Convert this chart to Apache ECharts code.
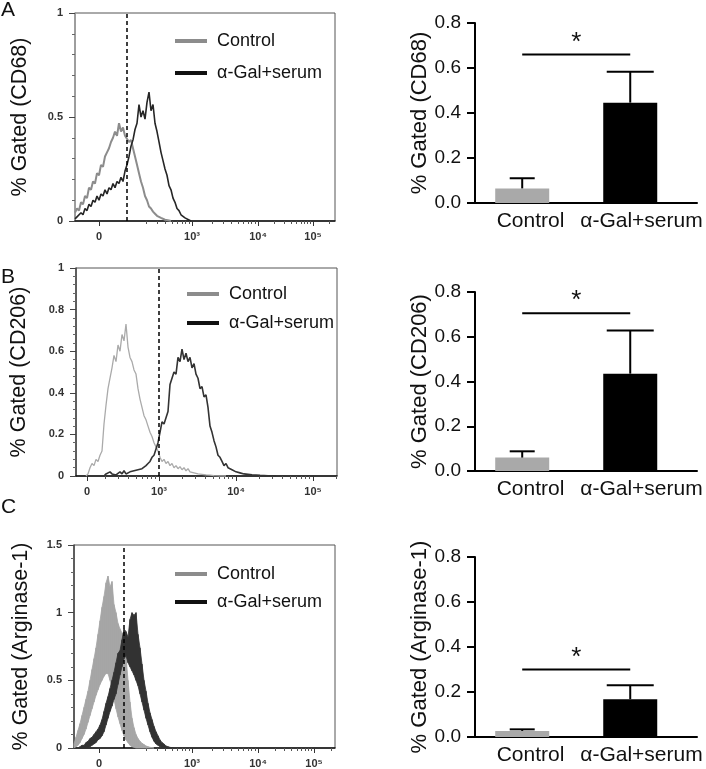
<!DOCTYPE html>
<html>
<head>
<meta charset="utf-8">
<script src="https://cdn.jsdelivr.net/npm/echarts@6/dist/echarts.min.js"></script>
<style>
html, body { margin: 0; padding: 0; background: #fff; }
#chart { width: 706px; height: 769px; }
</style>
</head>
<body>
<div id="chart"></div>
<script>
const FONT = '"Liberation Sans", Arial, "DejaVu Sans", sans-serif';

// groups and markers
const groups = ['Control', 'α-Gal+serum'];
const markers = ['CD68', 'CD206', 'Arginase-1'];
const panelLetters = ['A', 'B', 'C'];

// histogram display axis (biexponential channel, 0..max), bins every 2 channels
const BIN = 2;
const decadeLabels = ['0', '10³', '10⁴', '10⁵'];
const decadePosA = [24, 117, 183, 238];
const decadePosB = [11, 83, 160, 237];
const decadePosC = [25, 118, 184, 240];
const gatePos = [52, 83, 50];

// A: CD68 histograms
const ctrlA_start = 0;
const ctrlA = [0.04, 0.06, 0.05, 0.09, 0.08, 0.12, 0.11, 0.16, 0.15, 0.19, 0.18, 0.23, 0.22, 0.27, 0.26, 0.31, 0.33, 0.35, 0.38, 0.40,
  0.43, 0.41, 0.47, 0.43, 0.45, 0.41, 0.41, 0.38, 0.39, 0.35, 0.31, 0.27, 0.23, 0.19, 0.16, 0.12, 0.10, 0.07, 0.06, 0.045,
  0.035, 0.025, 0.02, 0.015, 0.01, 0.006, 0.004, 0.002, 0];
const agalA_start = 0;
const agalA = [0.01, 0.02, 0.015, 0.04, 0.03, 0.06, 0.05, 0.08, 0.07, 0.10, 0.09, 0.12, 0.10, 0.13, 0.12, 0.15, 0.13, 0.16, 0.15, 0.18,
  0.16, 0.19, 0.18, 0.21, 0.19, 0.24, 0.27, 0.31, 0.36, 0.39, 0.44, 0.47, 0.56, 0.50, 0.53, 0.49, 0.57, 0.62, 0.53, 0.56,
  0.47, 0.43, 0.38, 0.33, 0.29, 0.25, 0.22, 0.17, 0.15, 0.11, 0.09, 0.06, 0.05, 0.03, 0.035, 0.015, 0.02, 0.005, 0];

// B: CD206 histograms
const ctrlB_start = 10;
const ctrlB = [0, 0.01, 0.04, 0.06, 0.05, 0.08, 0.07, 0.10, 0.12, 0.25, 0.34, 0.42, 0.47, 0.52, 0.58, 0.55, 0.63, 0.60, 0.68, 0.65,
  0.73, 0.62, 0.57, 0.55, 0.51, 0.49, 0.42, 0.37, 0.33, 0.29, 0.27, 0.24, 0.21, 0.19, 0.16, 0.14, 0.12, 0.09, 0.07, 0.08,
  0.06, 0.07, 0.05, 0.06, 0.04, 0.05, 0.035, 0.045, 0.03, 0.04, 0.025, 0.035, 0.02, 0.025, 0.015, 0.02, 0.01, 0.015, 0.008, 0.012,
  0.005, 0.01, 0.004, 0.006, 0.002, 0.004, 0.001, 0.003, 0, 0.002, 0];
const agalB_start = 28;
const agalB = [0, 0.01, 0.005, 0.02, 0.01, 0.015, 0.005, 0.01, 0.02, 0.01, 0.025, 0.01, 0.015, 0.02, 0.015, 0.025, 0.02, 0.03, 0.025, 0.035,
  0.04, 0.05, 0.06, 0.07, 0.09, 0.10, 0.13, 0.16, 0.21, 0.26, 0.25, 0.28, 0.31, 0.44, 0.47, 0.50, 0.49, 0.57, 0.55, 0.61,
  0.56, 0.59, 0.55, 0.57, 0.52, 0.54, 0.49, 0.47, 0.42, 0.43, 0.38, 0.39, 0.33, 0.24, 0.21, 0.17, 0.14, 0.10, 0.09, 0.07,
  0.05, 0.06, 0.04, 0.045, 0.03, 0.025, 0.02, 0.025, 0.015, 0.02, 0.01, 0.015, 0.008, 0.012, 0.006, 0.008, 0.005, 0.006, 0.003, 0.005,
  0.002, 0.004, 0.001, 0.003, 0, 0.002, 0];

// C: Arginase-1 histograms (noisy, drawn as low/high envelopes)
const ctrlC_start = 0;
const ctrlCHi = [0.03, 0.08, 0.13, 0.18, 0.24, 0.30, 0.36, 0.42, 0.50, 0.58, 0.66, 0.74, 0.84, 0.94, 1.04, 1.12, 1.22, 1.27, 1.19, 1.23,
  1.06, 1.00, 0.92, 0.88, 0.85, 0.82, 0.68, 0.50, 0.34, 0.22, 0.15, 0.10, 0.07, 0.05, 0.035, 0.025, 0.015, 0.01, 0.005, 0.003, 0];
const ctrlCLo = [0, 0.01, 0.02, 0.04, 0.07, 0.10, 0.14, 0.19, 0.24, 0.29, 0.34, 0.39, 0.43, 0.47, 0.50, 0.53, 0.55, 0.55, 0.50, 0.44,
  0.36, 0.29, 0.23, 0.18, 0.13, 0.09, 0.06, 0.04, 0.02, 0.01, 0.005, 0, 0, 0, 0, 0, 0, 0, 0, 0, 0];
const agalC_start = 4;
const agalCHi = [0, 0.01, 0.02, 0.02, 0.04, 0.05, 0.07, 0.08, 0.10, 0.12, 0.14, 0.17, 0.21, 0.27, 0.33, 0.38, 0.44, 0.50, 0.56, 0.63,
  0.70, 0.72, 0.80, 0.88, 0.86, 0.82, 0.95, 1.00, 0.98, 1.00, 0.84, 0.74, 0.62, 0.50, 0.42, 0.33, 0.26, 0.21, 0.16, 0.12,
  0.09, 0.06, 0.04, 0.03, 0.015, 0.01, 0.005, 0.002, 0];
const agalCLo = [0, 0, 0, 0, 0, 0.005, 0.01, 0.02, 0.03, 0.04, 0.06, 0.07, 0.09, 0.12, 0.17, 0.22, 0.27, 0.31, 0.36, 0.40,
  0.47, 0.54, 0.60, 0.66, 0.68, 0.63, 0.60, 0.57, 0.54, 0.50, 0.46, 0.40, 0.34, 0.28, 0.22, 0.17, 0.12, 0.08, 0.05, 0.03,
  0.02, 0.01, 0.005, 0, 0, 0, 0, 0, 0];

// bar charts: mean and SD (upper error) per group
const cd68Mean = [0.065, 0.446];
const cd68Err = [0.045, 0.137];
const cd206Mean = [0.06, 0.435];
const cd206Err = [0.028, 0.193];
const arg1Mean = [0.027, 0.168];
const arg1Err = [0.007, 0.062];
const sigLevel = [0.66, 0.705, 0.30];
const barTicks = [0, 0.2, 0.4, 0.6, 0.8];

const GRAY = '#a9a9a9';
const BLACK = '#000';

function toPts(start, vals) {
  return vals.map((v, i) => [start + i * BIN, v]);
}

// one row per bin edge pair: [x, lo, hi, xNext, loNext, hiNext]
function bandRows(start, lo, hi) {
  const rows = [];
  for (let i = 0; i < lo.length - 1; i++) {
    rows.push([start + i * BIN, lo[i], hi[i], start + (i + 1) * BIN, lo[i + 1], hi[i + 1]]);
  }
  return rows;
}

function bandRenderer(color) {
  return (params, api) => {
    const a = api.coord([api.value(0), api.value(1)]);
    const b = api.coord([api.value(3), api.value(4)]);
    const c = api.coord([api.value(3), api.value(5)]);
    const d = api.coord([api.value(0), api.value(2)]);
    return {
      type: 'polygon',
      shape: { points: [a, b, c, d] },
      style: { fill: color, stroke: color, lineWidth: 0.8 }
    };
  };
}

function minorTicks(dec, max) {
  const w3 = dec[2] - dec[1];
  const w4 = dec[3] - dec[2];
  const starts = [[dec[1] - w3, w3], [dec[1], w3], [dec[2], w4], [dec[3], w4]];
  const out = [];
  starts.forEach(([s, w]) => {
    for (let k = 2; k <= 9; k++) {
      const p = s + w * Math.log10(k);
      if (p > dec[0] + 3 && p < max) out.push(p);
    }
  });
  return out;
}

const histGrids = [
  { left: 75, top: 13, width: 260, height: 208 },
  { left: 76, top: 268, width: 261, height: 208 },
  { left: 74, top: 545, width: 261, height: 204 }
];
const barGrids = [
  { left: 475, top: 23, width: 222, height: 180 },
  { left: 475, top: 292, width: 222, height: 179 },
  { left: 475, top: 557, width: 222, height: 180 }
];
const histDec = [decadePosA, decadePosB, decadePosC];
const histMax = [1, 1, 1.5];
const histStep = [0.5, 0.2, 0.5];
const histAxisColor = ['#9a9a9a', '#444', '#444'];
const histNameGap = [44, 46, 42];

const grid = [];
const xAxis = [];
const yAxis = [];

histGrids.forEach((g, i) => {
  grid.push(Object.assign({ show: true, borderColor: '#555', borderWidth: 1 }, g));
  const dec = histDec[i];
  xAxis.push({
    gridIndex: i, type: 'value', min: 0, max: g.width, position: 'bottom',
    axisLine: { onZero: false, lineStyle: { color: '#111', width: 1.5 } },
    axisTick: { customValues: dec, length: 5, lineStyle: { color: '#333' } },
    axisLabel: {
      customValues: dec, formatter: v => decadeLabels[dec.indexOf(v)],
      fontSize: 11, fontWeight: 'bold', color: '#333', fontFamily: FONT, margin: 10
    },
    splitLine: { show: false }
  });
  xAxis.push({
    gridIndex: i, type: 'value', min: 0, max: g.width, position: 'bottom',
    axisLine: { show: false, onZero: false },
    axisTick: { customValues: minorTicks(dec, g.width), length: 3, lineStyle: { color: '#555' } },
    axisLabel: { show: false, customValues: minorTicks(dec, g.width) },
    splitLine: { show: false }
  });
  yAxis.push({
    gridIndex: i, type: 'value', min: 0, max: histMax[i], interval: histStep[i],
    axisLine: { show: true, onZero: false, lineStyle: { color: histAxisColor[i], width: 1.5 } },
    axisTick: { show: true, length: 6, lineStyle: { color: '#444' } },
    minorTick: { show: true, splitNumber: 5, length: 3, lineStyle: { color: '#666' } },
    axisLabel: { fontSize: 11, fontWeight: 'bold', color: '#333', fontFamily: FONT, margin: 12 },
    splitLine: { show: false },
    name: '% Gated (' + markers[i] + ')', nameLocation: 'middle', nameGap: histNameGap[i],
    nameTextStyle: { fontSize: 21.5, color: '#111', fontFamily: FONT }
  });
});

barGrids.forEach((g, i) => {
  grid.push(g);
  xAxis.push({
    gridIndex: 3 + i, type: 'value', min: -0.437, max: 1.618, show: false,
    axisLine: { onZero: false }
  });
  xAxis.push({
    gridIndex: 3 + i, type: 'category', data: groups, position: 'bottom',
    axisLine: { onZero: false, lineStyle: { color: '#000', width: 2 } },
    axisTick: { show: false },
    axisLabel: { interval: 0, fontSize: 21, color: '#111', fontFamily: FONT, margin: 8 }
  });
  yAxis.push({
    gridIndex: 3 + i, type: 'value', min: barTicks[0], max: barTicks[barTicks.length - 1], interval: 0.2,
    axisLine: { show: true, onZero: false, lineStyle: { color: '#000', width: 2 } },
    axisTick: { show: true, length: 8, lineStyle: { color: '#000', width: 2 } },
    axisLabel: { fontSize: 19, color: '#111', fontFamily: FONT, margin: 14, formatter: v => v.toFixed(1) },
    splitLine: { show: false },
    name: '% Gated (' + markers[i] + ')', nameLocation: 'middle', nameGap: 44,
    nameTextStyle: { fontSize: 22, color: '#111', fontFamily: FONT }
  });
});

function gateLine(i) {
  return {
    silent: true, symbol: 'none', animation: false, z: 10,
    label: { show: false },
    lineStyle: { color: '#000', type: [4, 3], width: 1.5 },
    data: [{ xAxis: gatePos[i] }]
  };
}

const series = [];

// A histograms
series.push({
  type: 'line', name: groups[0], xAxisIndex: 0, yAxisIndex: 0, data: toPts(ctrlA_start, ctrlA),
  symbol: 'none', lineStyle: { color: '#8c8c8c', width: 2 }, itemStyle: { color: '#8c8c8c' }, z: 2,
  markLine: gateLine(0)
});
series.push({
  type: 'line', name: groups[1], xAxisIndex: 0, yAxisIndex: 0, data: toPts(agalA_start, agalA),
  symbol: 'none', lineStyle: { color: '#262626', width: 1.6 }, itemStyle: { color: '#262626' }, z: 3
});
// B histograms
series.push({
  type: 'line', name: groups[0], xAxisIndex: 2, yAxisIndex: 1, data: toPts(ctrlB_start, ctrlB),
  symbol: 'none', lineStyle: { color: '#aaaaaa', width: 1.3 }, itemStyle: { color: '#aaaaaa' }, z: 2,
  markLine: gateLine(1)
});
series.push({
  type: 'line', name: groups[1], xAxisIndex: 2, yAxisIndex: 1, data: toPts(agalB_start, agalB),
  symbol: 'none', lineStyle: { color: '#333', width: 1.6 }, itemStyle: { color: '#333' }, z: 3
});
// C histograms: filled band between low and high envelope
series.push({
  type: 'custom', name: groups[0], xAxisIndex: 4, yAxisIndex: 2, z: 2,
  data: bandRows(ctrlC_start, ctrlCLo, ctrlCHi),
  encode: { x: [0, 3], y: [1, 2, 4, 5] },
  itemStyle: { color: '#a6a6a6' },
  renderItem: bandRenderer('#a6a6a6')
});
series.push({
  type: 'custom', name: groups[1], xAxisIndex: 4, yAxisIndex: 2, z: 3,
  data: bandRows(agalC_start, agalCLo, agalCHi),
  encode: { x: [0, 3], y: [1, 2, 4, 5] },
  itemStyle: { color: '#333' },
  renderItem: bandRenderer('#333'),
  markLine: gateLine(2)
});

// bar charts
const barMeans = [cd68Mean, cd206Mean, arg1Mean];
const barErrs = [cd68Err, cd206Err, arg1Err];
const capHalf = [12.5, 23.5];

barMeans.forEach((means, i) => {
  const xi = 6 + i * 2;
  const yi = 3 + i;
  series.push({
    type: 'bar', name: 'bars' + i, xAxisIndex: xi, yAxisIndex: yi, barWidth: 54,
    data: means.map((m, j) => ({ value: [j, m], itemStyle: { color: j === 0 ? GRAY : BLACK } })),
    z: 2
  });
  series.push({
    type: 'custom', name: 'err' + i, xAxisIndex: xi, yAxisIndex: yi, z: 3,
    data: means.map((m, j) => [j, m, barErrs[i][j]]),
    renderItem: (params, api) => {
      const x = api.value(0);
      const m = api.value(1);
      const e = api.value(2);
      const base = api.coord([x, m]);
      const top = api.coord([x, m + e]);
      const h = capHalf[params.dataIndex];
      const st = { stroke: '#000', lineWidth: 2 };
      return {
        type: 'group', children: [
          { type: 'line', shape: { x1: base[0], y1: base[1], x2: top[0], y2: top[1] }, style: st },
          { type: 'line', shape: { x1: top[0] - h, y1: top[1], x2: top[0] + h, y2: top[1] }, style: st }
        ]
      };
    }
  });
  series.push({
    type: 'custom', name: 'sig' + i, xAxisIndex: xi, yAxisIndex: yi, z: 3,
    data: [[0, 1, sigLevel[i]]],
    renderItem: (params, api) => {
      const a = api.coord([api.value(0), api.value(2)]);
      const b = api.coord([api.value(1), api.value(2)]);
      return {
        type: 'group', children: [
          { type: 'line', shape: { x1: a[0], y1: a[1], x2: b[0], y2: b[1] }, style: { stroke: '#000', lineWidth: 2 } },
          {
            type: 'text', x: (a[0] + b[0]) / 2, y: a[1] + 1,
            style: { text: '*', fontSize: 26, fontFamily: FONT, fill: '#111', align: 'center', verticalAlign: 'bottom' }
          }
        ]
      };
    }
  });
});

const legendBase = {
  orient: 'vertical', icon: 'rect', itemWidth: 32, itemHeight: 4, selectedMode: false,
  textStyle: { fontSize: 18, color: '#111', fontFamily: FONT, lineHeight: 20, padding: [0, 0, 0, 5] }
};
const legendItems = (gray) => [
  { name: groups[0], itemStyle: { color: gray } },
  { name: groups[1], itemStyle: { color: '#111' } }
];
const legend = [
  Object.assign({}, legendBase, { left: 170, top: 26, itemGap: 12, data: legendItems('#8c8c8c') }),
  Object.assign({}, legendBase, { left: 182, top: 279, itemGap: 9, data: legendItems('#8c8c8c') }),
  Object.assign({}, legendBase, { left: 170, top: 559, itemGap: 8, data: legendItems('#8c8c8c') })
];

const letterTops = [0, 267, 497];
const title = panelLetters.map((t, i) => ({
  text: t, left: 1, top: letterTops[i], padding: 0,
  textStyle: { fontSize: 21, fontWeight: 'normal', color: '#111', fontFamily: FONT }
}));

const chart = echarts.init(document.getElementById('chart'));
chart.setOption({
  animation: false,
  backgroundColor: '#fff',
  textStyle: { fontFamily: FONT },
  title: title,
  legend: legend,
  grid: grid,
  xAxis: xAxis,
  yAxis: yAxis,
  series: series
});
</script>
</body>
</html>
